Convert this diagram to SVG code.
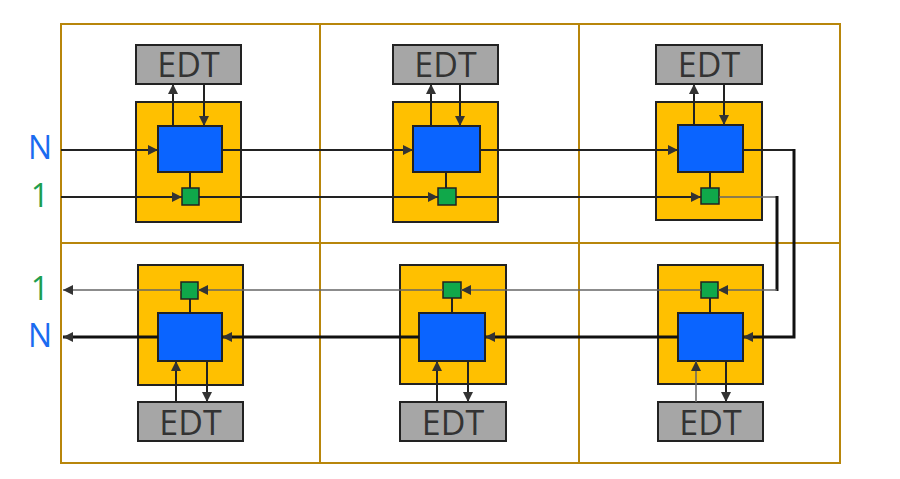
<svg xmlns="http://www.w3.org/2000/svg" width="900" height="479" viewBox="0 0 900 479">
<defs>
<marker id="ah" viewBox="0 0 10 10" refX="10" refY="5" markerWidth="10" markerHeight="10" markerUnits="userSpaceOnUse" orient="auto">
<path d="M0,0 L10,5 L0,10 z" fill="#333"/>
</marker>
</defs>
<style>
.frame{fill:none;stroke:#b8860b;stroke-width:2}
.yel{fill:#ffc000;stroke:#222;stroke-width:2}
.blu{fill:#0a64ff;stroke:#222;stroke-width:2}
.grn{fill:#10a84a;stroke:#222;stroke-width:1.5}
.edt{fill:#a6a6a6;stroke:#222;stroke-width:2}
.edtt{font-family:"Open Sans","DejaVu Sans",sans-serif;font-size:34px;fill:#333;text-anchor:middle}
.lab{font-family:"Open Sans","DejaVu Sans",sans-serif;font-size:32px;text-anchor:middle}
.ln{fill:none;stroke:#222;stroke-width:2}
.thick{fill:none;stroke:#111;stroke-width:3}
.thin{fill:none;stroke:#666;stroke-width:1.5}
.ar{marker-end:url(#ah)}
</style>
<rect width="900" height="479" fill="#fff"/>
<g id="frame">
<rect class="frame" x="61" y="24" width="779" height="439"/>
<line class="frame" x1="61" y1="243" x2="840" y2="243"/>
<line class="frame" x1="320" y1="24" x2="320" y2="463"/>
<line class="frame" x1="579" y1="24" x2="579" y2="463"/>
</g>
<g id="labels">
<text class="lab" x="40" y="159" fill="#1a6bf0">N</text>
<text class="lab" x="40" y="207" fill="#1e9e4e">1</text>
<text class="lab" x="40" y="300" fill="#1e9e4e">1</text>
<text class="lab" x="40" y="347" fill="#1a6bf0">N</text>
</g>
<g id="t1">
<rect class="edt" x="136" y="45" width="105" height="39"/><text class="edtt" x="188.5" y="77">EDT</text>
<rect class="yel" x="136" y="102" width="105" height="120"/>
<rect class="blu" x="158" y="126" width="64" height="46"/>
<rect class="grn" x="182" y="188" width="17" height="17"/>
</g>
<g id="t2">
<rect class="edt" x="393" y="45" width="105" height="39"/><text class="edtt" x="445.5" y="77">EDT</text>
<rect class="yel" x="393" y="102" width="105" height="120"/>
<rect class="blu" x="413" y="126" width="67" height="46"/>
<rect class="grn" x="438" y="188" width="18" height="17"/>
</g>
<g id="t3">
<rect class="edt" x="656" y="45" width="106" height="39"/><text class="edtt" x="709" y="77">EDT</text>
<rect class="yel" x="656" y="102" width="106" height="118"/>
<rect class="blu" x="678" y="125" width="65" height="47"/>
<rect class="grn" x="701" y="188" width="18" height="16"/>
</g>
<g id="b1">
<rect class="yel" x="138" y="265" width="105" height="120"/>
<rect class="grn" x="181" y="282" width="17" height="17"/>
<rect class="blu" x="158" y="313" width="64" height="48"/>
<rect class="edt" x="138" y="402" width="105" height="39"/><text class="edtt" x="190.5" y="435">EDT</text>
</g>
<g id="b2">
<rect class="yel" x="400" y="265" width="106" height="119"/>
<rect class="grn" x="443" y="282" width="18" height="16"/>
<rect class="blu" x="419" y="313" width="66" height="48"/>
<rect class="edt" x="400" y="402" width="106" height="39"/><text class="edtt" x="453" y="435">EDT</text>
</g>
<g id="b3">
<rect class="yel" x="658" y="265" width="105" height="119"/>
<rect class="grn" x="701" y="282" width="17" height="16"/>
<rect class="blu" x="678" y="313" width="65" height="48"/>
<rect class="edt" x="658" y="402" width="105" height="39"/><text class="edtt" x="710.5" y="435">EDT</text>
</g>
<g id="connectors">
<line class="ln ar" x1="61" y1="150" x2="158" y2="150"/>
<line class="ln ar" x1="222" y1="150" x2="413" y2="150"/>
<line class="ln ar" x1="480" y1="150" x2="678" y2="150"/>
<line class="ln" x1="743" y1="150" x2="794" y2="150"/>
<polyline class="thick ar" points="794,149 794,337 743,337"/>
<line class="ln ar" x1="61" y1="197" x2="182" y2="197"/>
<line class="ln ar" x1="199" y1="197" x2="438" y2="197"/>
<line class="ln ar" x1="456" y1="197" x2="701" y2="197"/>
<line class="thin" x1="719" y1="197" x2="777" y2="197"/>
<line class="thick" x1="777" y1="196" x2="777" y2="291"/>
<line class="thin ar" x1="777" y1="290" x2="718" y2="290"/>
<line class="thick ar" x1="678" y1="337" x2="485" y2="337"/>
<line class="thick ar" x1="419" y1="337" x2="222" y2="337"/>
<line class="thick ar" x1="158" y1="337" x2="63" y2="337"/>
<line class="thin ar" x1="701" y1="290" x2="461" y2="290"/>
<line class="thin ar" x1="443" y1="290" x2="198" y2="290"/>
<line class="thin ar" x1="181" y1="290" x2="63" y2="290"/>
<line class="ln" x1="190" y1="172" x2="190" y2="188"/>
<line class="ln" x1="446" y1="172" x2="446" y2="188"/>
<line class="ln" x1="710" y1="172" x2="710" y2="188"/>
<line class="ln" x1="190" y1="299" x2="190" y2="313"/>
<line class="ln" x1="452" y1="298" x2="452" y2="313"/>
<line class="ln" x1="710" y1="298" x2="710" y2="313"/>
<line class="ln ar" x1="173" y1="126" x2="173" y2="84"/>
<line class="ln ar" x1="204" y1="84" x2="204" y2="126"/>
<line class="ln ar" x1="431" y1="126" x2="431" y2="84"/>
<line class="ln ar" x1="460" y1="84" x2="460" y2="126"/>
<line class="ln ar" x1="694" y1="125" x2="694" y2="84"/>
<line class="ln ar" x1="724" y1="84" x2="724" y2="125"/>
<line class="ln ar" x1="176" y1="402" x2="176" y2="361"/>
<line class="ln ar" x1="207" y1="361" x2="207" y2="402"/>
<line class="ln ar" x1="437" y1="402" x2="437" y2="361"/>
<line class="ln ar" x1="468" y1="361" x2="468" y2="402"/>
<line class="thin ar" x1="696" y1="402" x2="696" y2="361"/>
<line class="ln ar" x1="726" y1="361" x2="726" y2="402"/>
</g>
</svg>
